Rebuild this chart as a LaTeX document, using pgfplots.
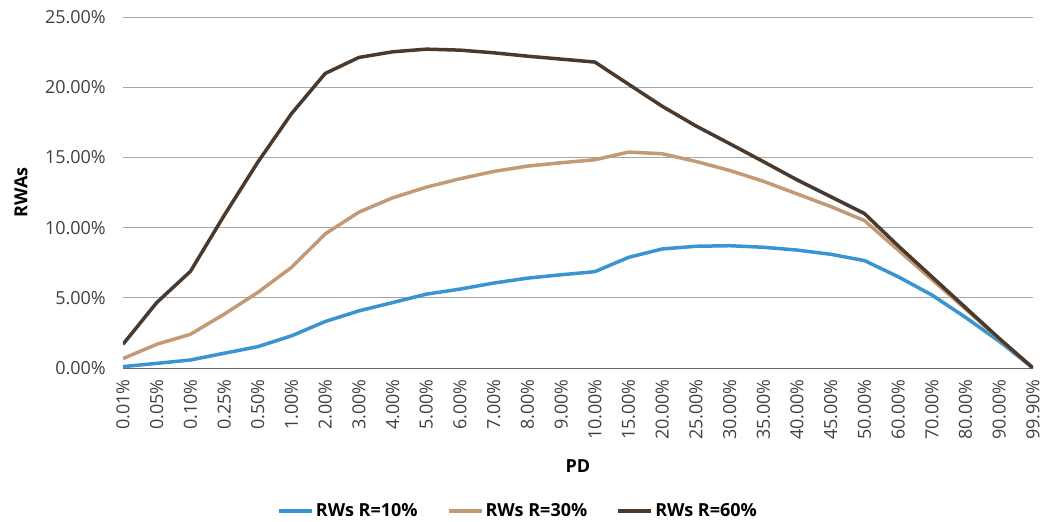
\documentclass[border=0pt]{standalone}
\usepackage{pgfplots}
\pgfplotsset{compat=1.18}
\usepackage{fontspec}
\setmainfont{Open Sans}
\definecolor{cblue}{HTML}{3A94CF}
\definecolor{ctan}{HTML}{C49A76}
\definecolor{cdark}{HTML}{4A3A2E}
\definecolor{cgrid}{HTML}{A6A6A6}
\definecolor{ctick}{HTML}{404040}
\begin{document}
\begin{tikzpicture}
\fontsize{18bp}{21bp}\selectfont
\begin{axis}[
  name=ax,
  scale only axis,
  width=910bp, height=351bp,
  xmin=0, xmax=27, ymin=0, ymax=25,
  axis line style={draw=none},
  xtick=data,
  xticklabels={0.01\%,0.05\%,0.10\%,0.25\%,0.50\%,1.00\%,2.00\%,3.00\%,4.00\%,5.00\%,6.00\%,7.00\%,8.00\%,9.00\%,10.00\%,15.00\%,20.00\%,25.00\%,30.00\%,35.00\%,40.00\%,45.00\%,50.00\%,60.00\%,70.00\%,80.00\%,90.00\%,99.90\%},
  ytick={0,5,10,15,20,25},
  yticklabel={\pgfmathprintnumber[fixed,fixed zerofill,precision=2]{\tick}\%},
  /pgf/number format/assume math mode=true,
  major tick length=0pt,
  ymajorgrids,
  grid style={cgrid, line width=0.8bp},
  ticklabel style={font=\fontsize{18bp}{21bp}\selectfont, text=ctick},
  yticklabel style={inner sep=0pt, xshift=-17bp, anchor=east},
  xticklabel style={inner sep=0pt, yshift=-11bp, rotate=90, anchor=east},
  xlabel={\textbf{PD}},
  ylabel={\textbf{RWAs}},
  xlabel style={at={(axis description cs:0.5,0)}, anchor=center, yshift=-98bp, font=\fontsize{18bp}{21bp}\selectfont},
  ylabel style={at={(axis description cs:0,0.5)}, anchor=center, yshift=102bp, font=\fontsize{18bp}{21bp}\selectfont},
  legend columns=3,
  legend style={at={(0.434,-0.407)}, anchor=center, draw=none, fill=none,
    font=\bfseries\fontsize{18bp}{21bp}\selectfont, inner sep=0pt,
    /tikz/every even column/.append style={column sep=27bp}},
  legend cell align=left,
  legend image code/.code={\draw[#1, line width=4bp] (0bp,0bp) -- (33bp,0bp);},
  every axis plot/.append style={line width=3.5bp, line join=round},
]
\draw[draw=ctick!80, line width=1bp] (axis cs:0,0) -- (axis cs:27,0);
\addplot[cblue, mark=none] coordinates {
(0,0.10) (1,0.33) (2,0.57) (3,1.05) (4,1.52) (5,2.29) (6,3.31) (7,4.07) (8,4.66) (9,5.26)
(10,5.62) (11,6.05) (12,6.40) (13,6.64) (14,6.86) (15,7.88) (16,8.48) (17,8.67) (18,8.71) (19,8.60)
(20,8.40) (21,8.10) (22,7.65) (23,6.50) (24,5.20) (25,3.60) (26,1.90) (27,0.00)};
\addlegendentry{RWs R=10\%}
\addplot[ctan, mark=none] coordinates {
(0,0.67) (1,1.69) (2,2.40) (3,3.83) (4,5.38) (5,7.17) (6,9.55) (7,11.10) (8,12.12) (9,12.88)
(10,13.48) (11,14.00) (12,14.38) (13,14.62) (14,14.83) (15,15.38) (16,15.26) (17,14.71) (18,14.07) (19,13.30)
(20,12.40) (21,11.50) (22,10.50) (23,8.40) (24,6.30) (25,4.20) (26,2.05) (27,0.00)};
\addlegendentry{RWs R=30\%}
\addplot[cdark, mark=none] coordinates {
(0,1.69) (1,4.66) (2,6.88) (3,10.86) (4,14.66) (5,18.12) (6,20.98) (7,22.12) (8,22.52) (9,22.71)
(10,22.64) (11,22.45) (12,22.21) (13,22.00) (14,21.79) (15,20.21) (16,18.64) (17,17.24) (18,15.98) (19,14.70)
(20,13.40) (21,12.20) (22,11.00) (23,8.70) (24,6.50) (25,4.30) (26,2.10) (27,0.00)};
\addlegendentry{RWs R=60\%}
\end{axis}
\path ([xshift=-123bp,yshift=-154bp]ax.south west) rectangle ([xshift=18bp,yshift=17bp]ax.north east);
\end{tikzpicture}
\end{document}
